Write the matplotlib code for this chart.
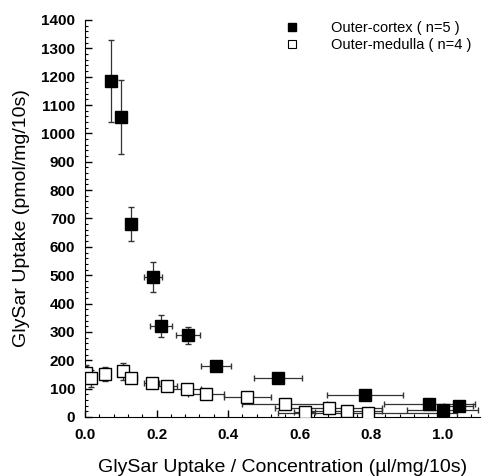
import matplotlib
matplotlib.use("Agg")
import matplotlib.pyplot as plt
from matplotlib.lines import Line2D
from matplotlib.ticker import MultipleLocator

plt.rcParams['font.family'] = ['Liberation Sans', 'DejaVu Sans']

# Outer-cortex (filled squares)
cortex_x = [0.073, 0.101, 0.130, 0.190, 0.212, 0.288, 0.366, 0.540, 0.783, 0.963, 1.000, 1.045]
cortex_y = [1185, 1058, 680, 492, 320, 289, 180, 137, 78, 46, 25, 37]
cortex_xerr = [0.004, 0.004, 0.005, 0.024, 0.030, 0.034, 0.042, 0.066, 0.107, 0.127, 0.100, 0.040]
cortex_yerr = [145, 130, 60, 53, 38, 30, 15, 10, 8, 6, 6, 6]

# Outer-medulla (open squares)
medulla_x = [0.003, 0.017, 0.056, 0.107, 0.130, 0.186, 0.228, 0.285, 0.338, 0.454, 0.558, 0.614, 0.682, 0.732, 0.791]
medulla_y = [155, 137, 152, 162, 137, 120, 109, 99, 81, 70, 46, 18, 32, 22, 14]
medulla_xerr = [0.004, 0.004, 0.005, 0.008, 0.015, 0.020, 0.030, 0.040, 0.050, 0.066, 0.120, 0.030, 0.150, 0.100, 0.250]
medulla_yerr = [30, 30, 25, 30, 15, 10, 10, 10, 8, 8, 6, 6, 6, 6, 6]

fig = plt.figure(figsize=(4.83, 4.76), dpi=100)
ax = fig.add_axes([0.176, 0.124, 0.818, 0.834])

ax.errorbar(medulla_x, medulla_y, xerr=medulla_xerr, yerr=medulla_yerr, fmt='s',
            mfc='white', mec='black', mew=1.0, ms=9, ecolor='#333333',
            elinewidth=0.9, capsize=2.5, zorder=3)
ax.errorbar(cortex_x, cortex_y, xerr=cortex_xerr, yerr=cortex_yerr, fmt='s',
            mfc='black', mec='black', ms=9, ecolor='#333333',
            elinewidth=0.9, capsize=2.5, zorder=4)

ax.set_xlim(0, 1.105)
ax.set_ylim(0, 1400)
ax.xaxis.set_major_locator(MultipleLocator(0.2))
ax.xaxis.set_minor_locator(MultipleLocator(0.04))
ax.yaxis.set_major_locator(MultipleLocator(100))
ax.yaxis.set_minor_locator(MultipleLocator(20))
ax.tick_params(which='both', direction='in', top=False, right=False)
ax.tick_params(which='major', length=5, width=1)
ax.tick_params(which='minor', length=2.5, width=0.8)
ax.tick_params(axis='x', which='major', pad=8)
ax.tick_params(axis='y', which='major', pad=7)
ax.spines['top'].set_visible(False)
ax.spines['right'].set_visible(False)

ax.set_xticks([0.0, 0.2, 0.4, 0.6, 0.8, 1.0])
ax.set_xticklabels(['0.0', '0.2', '0.4', '0.6', '0.8', '1.0'])
for lab in ax.get_xticklabels() + ax.get_yticklabels():
    lab.set_fontweight('bold')
    lab.set_fontsize(11)

ax.set_xlabel('GlySar Uptake / Concentration (\u00b5l/mg/10s)', fontsize=14, labelpad=12)
ax.set_ylabel('GlySar Uptake (pmol/mg/10s)', fontsize=14, labelpad=8)

handles = [Line2D([], [], ls='none', marker='s', ms=6, mfc='black', mec='black'),
           Line2D([], [], ls='none', marker='s', ms=6, mfc='white', mec='black', mew=0.8)]
labels = ['Outer-cortex ( n=5 )', 'Outer-medulla ( n=4 )']
ax.legend(handles, labels, loc='upper right', bbox_to_anchor=(1.0, 1.02), frameon=False,
          fontsize=10.5, handletextpad=2.2, handlelength=1.0, borderaxespad=0.2,
          labelspacing=0.2)

fig.savefig('out.png', dpi=100)
